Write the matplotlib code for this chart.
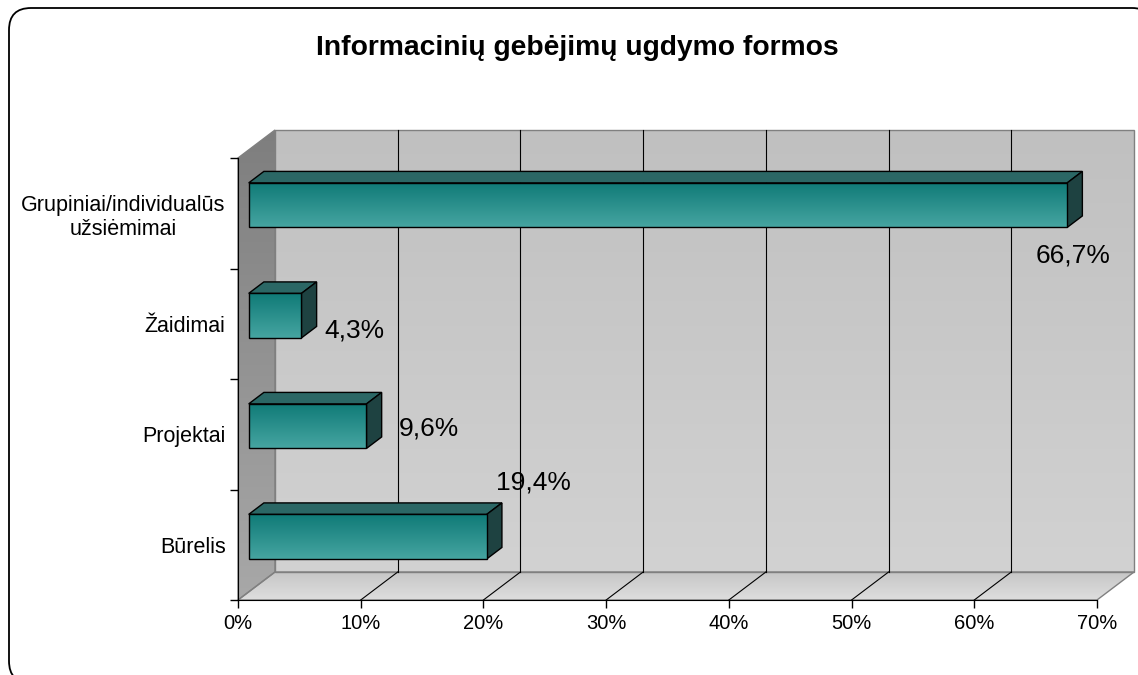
import numpy as np
import matplotlib
matplotlib.use("Agg")
from matplotlib import pyplot as plt
from matplotlib.patches import Polygon, FancyBboxPatch
from matplotlib.colors import LinearSegmentedColormap

plt.rcParams['font.family'] = ['Liberation Sans', 'DejaVu Sans']

categories = ['Būrelis', 'Projektai', 'Žaidimai', 'Grupiniai/individualūs\nužsiėmimai']
values = [19.4, 9.6, 4.3, 66.7]
value_labels = ['19,4%', '9,6%', '4,3%', '66,7%']
x_ticks = [0, 10, 20, 30, 40, 50, 60, 70]
x_tick_labels = ['0%', '10%', '20%', '30%', '40%', '50%', '60%', '70%']
title = 'Informacinių gebėjimų ugdymo formos'

# where each value label sits relative to the bar end (pixels), like Excel put them
label_offsets = [(47, 54), (62, -2), (53, -15), (6, -50)]

W, H = 1138, 675
fig = plt.figure(figsize=(W / 100, H / 100), dpi=100)

# rounded frame around the chart
bg = fig.add_axes([0, 0, 1, 1])
bg.set_xlim(0, W)
bg.set_ylim(H, 0)
bg.axis('off')
bg.add_patch(FancyBboxPatch((9, 8), 1145, 675, boxstyle='round,pad=0,rounding_size=22',
                            facecolor='white', edgecolor='black', lw=1.3))

ax = fig.add_axes([238 / W, 75 / H, 859 / W, 442 / H])
ax.set_facecolor('none')
XMAX, NCAT = 70, 4
DX, DY = 3.015, 0.2534      # depth of the 3d box in data units
F = 0.289                   # depth plane of the bar front faces
BD = 0.41                   # bar depth fraction
BH = 0.403                  # bar thickness


def grad_fill(xy, c_top, c_bot, z):
    poly = Polygon(xy, closed=True, facecolor='none', edgecolor='none', clip_on=False)
    ax.add_patch(poly)
    xy = np.array(xy)
    cmap = LinearSegmentedColormap.from_list('g', [c_bot, c_top])
    im = ax.imshow(np.linspace(0, 1, 256).reshape(-1, 1), origin='lower', cmap=cmap,
                   extent=[xy[:, 0].min(), xy[:, 0].max(), xy[:, 1].min(), xy[:, 1].max()],
                   aspect='auto', interpolation='bilinear', zorder=z)
    im.set_clip_path(poly)
    im.set_clip_box(fig.bbox)


# walls and floor
back = [(DX, DY), (XMAX + DX, DY), (XMAX + DX, NCAT + DY), (DX, NCAT + DY)]
left = [(0, 0), (DX, DY), (DX, NCAT + DY), (0, NCAT)]
floor = [(0, 0), (XMAX, 0), (XMAX + DX, DY), (DX, DY)]
grad_fill(back, '#c0c0c0', '#d2d2d2', 0.2)
grad_fill(left, '#7e7e7e', '#a8a8a8', 0.2)
grad_fill(floor, '#c6c6c6', '#dedede', 0.2)
for xy in (back, left, floor):
    ax.add_patch(Polygon(xy, closed=True, facecolor='none', edgecolor='#808080',
                         lw=1, clip_on=False, zorder=0.3))

# gridlines on back wall and floor
for t in x_ticks[1:-1]:
    ax.plot([t + DX, t + DX], [DY, NCAT + DY], color='black', lw=0.8, clip_on=False, zorder=0.4)
    ax.plot([t, t + DX], [0, DY], color='black', lw=0.8, clip_on=False, zorder=0.4)

# 3d bars
front_cmap = ['#0f7a77', '#46a5a1']
for i, (v, lab, off) in enumerate(zip(values, value_labels, label_offsets)):
    x0 = F * DX
    yc = i + 0.5 + F * DY
    y0, y1 = yc - BH / 2, yc + BH / 2
    x1 = x0 + v
    bx, by = BD * DX, BD * DY
    top = [(x0, y1), (x1, y1), (x1 + bx, y1 + by), (x0 + bx, y1 + by)]
    side = [(x1, y0), (x1 + bx, y0 + by), (x1 + bx, y1 + by), (x1, y1)]
    ax.add_patch(Polygon(top, closed=True, facecolor='#2b6765', edgecolor='black',
                         lw=1, clip_on=False, zorder=3))
    ax.add_patch(Polygon(side, closed=True, facecolor='#1e4241', edgecolor='black',
                         lw=1, clip_on=False, zorder=3))
    front = [(x0, y0), (x1, y0), (x1, y1), (x0, y1)]
    grad_fill(front, front_cmap[0], front_cmap[1], 3)
    ax.add_patch(Polygon(front, closed=True, facecolor='none', edgecolor='black',
                         lw=1, clip_on=False, zorder=3.1))
    ax.annotate(lab, xy=(x1, yc), xytext=off, textcoords='offset pixels',
                ha='center', va='center', fontsize=19, zorder=5)

ax.set_xlim(0, XMAX)
ax.set_ylim(0, NCAT)
ax.spines['top'].set_visible(False)
ax.spines['right'].set_visible(False)
ax.spines['left'].set_zorder(0.5)
ax.spines['bottom'].set_zorder(0.5)
ax.set_xticks(x_ticks)
ax.set_xticklabels(x_tick_labels, fontsize=14.5)
ax.tick_params(axis='x', direction='out', length=6, width=1, pad=4)
ax.set_yticks(range(NCAT + 1))
ax.set_yticklabels([])
ax.set_yticks([i + 0.5 for i in range(NCAT)], minor=True)
ylabs = ax.set_yticklabels(categories, minor=True, fontsize=15.5)
ylabs[-1].set_multialignment('center')
ax.tick_params(axis='y', which='major', direction='out', length=6, width=1)
ax.tick_params(axis='y', which='minor', length=0, pad=9)

fig.text(577 / W, 1 - 48 / H, title, ha='center', va='center', fontsize=20.3, fontweight='bold')

fig.savefig('out.png', dpi=100)
